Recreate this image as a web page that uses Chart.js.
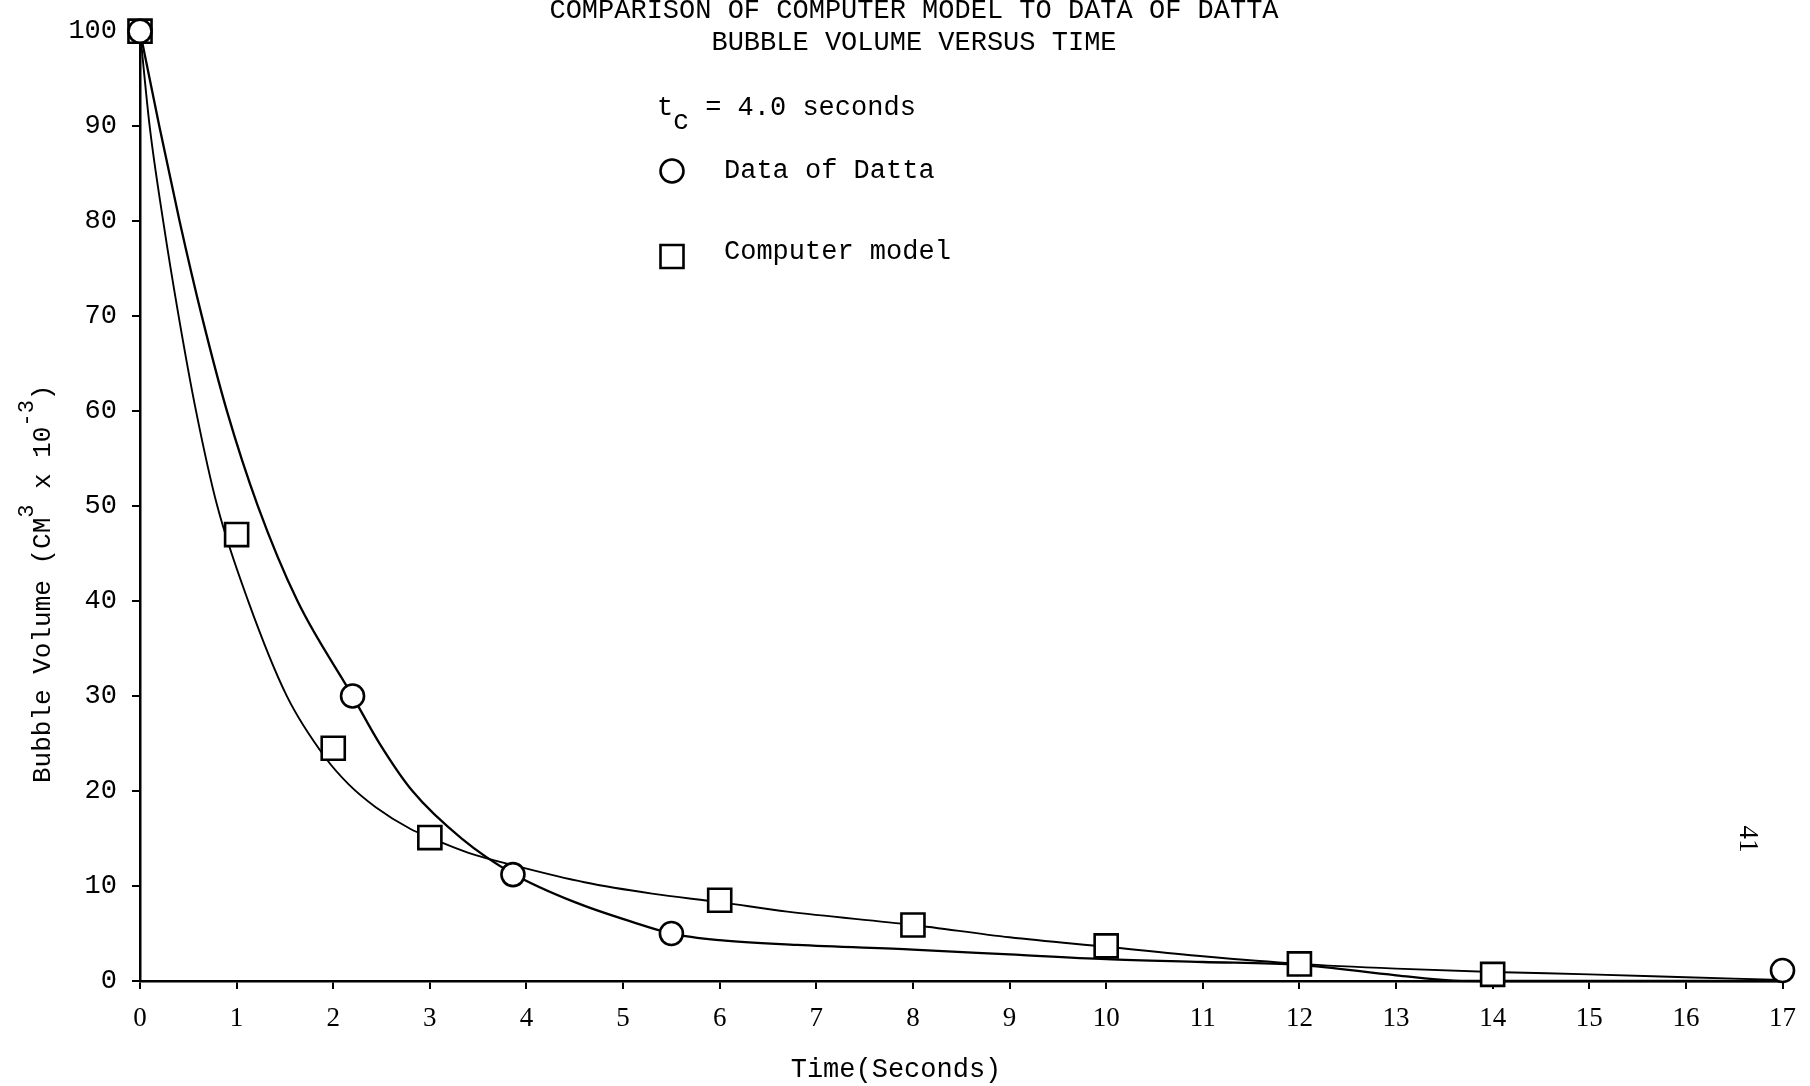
<!DOCTYPE html>
<html>
<head>
<meta charset="utf-8">
<script src="https://cdn.jsdelivr.net/npm/chart.js@4.4.0/dist/chart.umd.min.js"></script>
<style>
  html, body { margin: 0; padding: 0; background: #fff; }
  canvas { display: block; }
</style>
</head>
<body>
<canvas id="chart" width="1810" height="1086"></canvas>
<script>
// Measured points: Datta's data (circles) and the computer model (squares)
const dattaTime   = [0, 2.2, 3.86, 5.5, 17];
const dattaVolume = [100, 30, 11.2, 5.0, 1.1];

const modelTime   = [0, 1, 2, 3, 6, 8, 10, 12, 14];
const modelVolume = [100, 47, 24.5, 15.1, 8.5, 5.9, 3.7, 1.8, 0.7];

// Hand-faired curves through each set of points
const dattaCurveTime   = [0, 0.2, 0.41, 0.64, 0.9, 1.22, 1.63, 2.2, 2.48, 2.82, 3.33, 3.86, 4.5, 5.1, 5.5, 6.0, 6.8, 8, 9, 10, 11, 12, 13, 13.6, 14, 17];
const dattaCurveVolume = [100, 90, 80, 70, 60, 50, 40, 30, 25, 20, 15, 11.3, 8.3, 6.2, 5.0, 4.3, 3.8, 3.3, 2.8, 2.3, 2.0, 1.7, 0.6, 0.05, 0, 0];

const modelCurveTime   = [0, 0.1, 0.24, 0.4, 0.58, 0.8, 1.12, 1.52, 1.92, 2.16, 2.44, 2.8, 3.0, 3.4, 3.9, 4.6, 5.3, 6.0, 6.7, 8, 9, 10, 11, 12, 13, 14, 15, 16, 17];
const modelCurveVolume = [100, 90, 80, 70, 60, 50, 40, 30, 23.5, 20.7, 18.3, 16.0, 15.1, 13.5, 12.1, 10.4, 9.2, 8.3, 7.3, 5.9, 4.6, 3.6, 2.6, 1.8, 1.3, 0.95, 0.7, 0.4, 0.1];

// Axis tick labels
const timeTicks   = [0, 1, 2, 3, 4, 5, 6, 7, 8, 9, 10, 11, 12, 13, 14, 15, 16, 17];
const volumeTicks = [0, 10, 20, 30, 40, 50, 60, 70, 80, 90, 100];

// Page text
const titleLines  = ['COMPARISON OF COMPUTER MODEL TO DATA OF DATTA', 'BUBBLE VOLUME VERSUS TIME'];
const seriesNames = ['Data of Datta', 'Computer model'];
const xTitle      = 'Time(Seconds)';
const pageNumber  = '41';

const pts = (xs, ys) => xs.map((x, i) => ({ x, y: ys[i] }));

const MONO  = '"Liberation Mono", "DejaVu Sans Mono", monospace';
const SERIF = '"Liberation Serif", "DejaVu Serif", serif';

// Titles, key, axis titles and folio drawn over the plot
const pageText = {
  id: 'pageText',
  afterDraw(chart) {
    const ctx = chart.ctx;
    ctx.save();
    ctx.fillStyle = '#000';
    ctx.strokeStyle = '#000';

    // Title
    ctx.font = '27px ' + MONO;
    ctx.textAlign = 'center';
    ctx.textBaseline = 'alphabetic';
    ctx.fillText(titleLines[0], 914, 18);
    ctx.fillText(titleLines[1], 914, 50);

    // t_c = 4.0 seconds
    ctx.textAlign = 'left';
    ctx.fillText('t', 657, 115);
    ctx.fillText('c', 673, 129);
    ctx.fillText(' = 4.0 seconds', 689, 115);

    // Key
    ctx.lineWidth = 2.6;
    ctx.beginPath();
    ctx.arc(672, 171, 11.5, 0, Math.PI * 2);
    ctx.fillStyle = '#fff'; ctx.fill(); ctx.stroke();
    ctx.fillStyle = '#000';
    ctx.fillText(seriesNames[0], 724, 178);

    ctx.beginPath();
    ctx.rect(660.5, 245, 23, 23);
    ctx.fillStyle = '#fff'; ctx.fill(); ctx.stroke();
    ctx.fillStyle = '#000';
    ctx.fillText(seriesNames[1], 724, 259);

    // x-axis title
    ctx.textAlign = 'center';
    ctx.fillText(xTitle, 896, 1077);

    // y-axis title with raised exponents
    ctx.save();
    ctx.translate(50, 783);
    ctx.rotate(-Math.PI / 2);
    ctx.textAlign = 'left';
    const parts = [
      ['Bubble Volume (CM', false],
      ['3', true],
      [' x 10', false],
      ['-3', true],
      [')', false]
    ];
    let x = 0;
    for (const [txt, sup] of parts) {
      ctx.font = (sup ? '22px ' : '26px ') + MONO;
      ctx.fillText(txt, x, sup ? -17 : 0);
      x += ctx.measureText(txt).width;
    }
    ctx.restore();

    // Page number, set sideways
    ctx.save();
    ctx.translate(1747, 839);
    ctx.rotate(Math.PI / 2);
    ctx.font = '27px ' + SERIF;
    ctx.textAlign = 'center';
    ctx.textBaseline = 'middle';
    ctx.fillText(pageNumber, 0, 0);
    ctx.restore();

    ctx.restore();
  }
};

new Chart(document.getElementById('chart'), {
  type: 'scatter',
  data: {
    datasets: [
      {
        label: seriesNames[0],
        data: pts(dattaTime, dattaVolume),
        showLine: false,
        pointStyle: 'circle',
        pointRadius: 11.5,
        pointBorderWidth: 2.6,
        pointBorderColor: '#000',
        pointBackgroundColor: '#fff',
        clip: false,
        order: 0
      },
      {
        label: seriesNames[1],
        data: pts(modelTime, modelVolume),
        showLine: false,
        pointStyle: 'rect',
        pointRadius: 16.3,
        pointBorderWidth: 2.6,
        pointBorderColor: '#000',
        pointBackgroundColor: '#fff',
        clip: false,
        order: 0
      },
      {
        label: seriesNames[0] + ' curve',
        data: pts(dattaCurveTime, dattaCurveVolume),
        showLine: true,
        pointRadius: 0,
        borderColor: '#000',
        borderWidth: 2.3,
        cubicInterpolationMode: 'monotone',
        clip: false,
        order: 1
      },
      {
        label: seriesNames[1] + ' curve',
        data: pts(modelCurveTime, modelCurveVolume),
        showLine: true,
        pointRadius: 0,
        borderColor: '#000',
        borderWidth: 1.9,
        cubicInterpolationMode: 'monotone',
        clip: false,
        order: 1
      }
    ]
  },
  options: {
    responsive: false,
    devicePixelRatio: 1,
    animation: false,
    layout: { padding: { top: 24, right: 21, left: 0, bottom: 0 } },
    plugins: {
      legend: { display: false },
      tooltip: { enabled: false }
    },
    scales: {
      x: {
        type: 'linear',
        min: 0,
        max: 17,
        afterBuildTicks: s => { s.ticks = timeTicks.map(v => ({ value: v })); },
        afterFit: s => { s.height = 105; },
        ticks: {
          color: '#000',
          font: { family: SERIF, size: 27 },
          padding: 14,
          maxRotation: 0,
          autoSkip: false
        },
        grid: { drawOnChartArea: false, drawTicks: true, tickLength: 8, color: '#000', lineWidth: 2 },
        border: { color: '#000', width: 2.5 }
      },
      y: {
        type: 'linear',
        min: 0,
        max: 100,
        afterBuildTicks: s => { s.ticks = volumeTicks.map(v => ({ value: v })); },
        afterFit: s => { s.width = 140; },
        ticks: {
          color: '#000',
          font: { family: MONO, size: 27 },
          padding: 15,
          autoSkip: false
        },
        grid: { drawOnChartArea: false, drawTicks: true, tickLength: 8, color: '#000', lineWidth: 2 },
        border: { color: '#000', width: 2.5 }
      }
    }
  },
  plugins: [pageText]
});
</script>
</body>
</html>
